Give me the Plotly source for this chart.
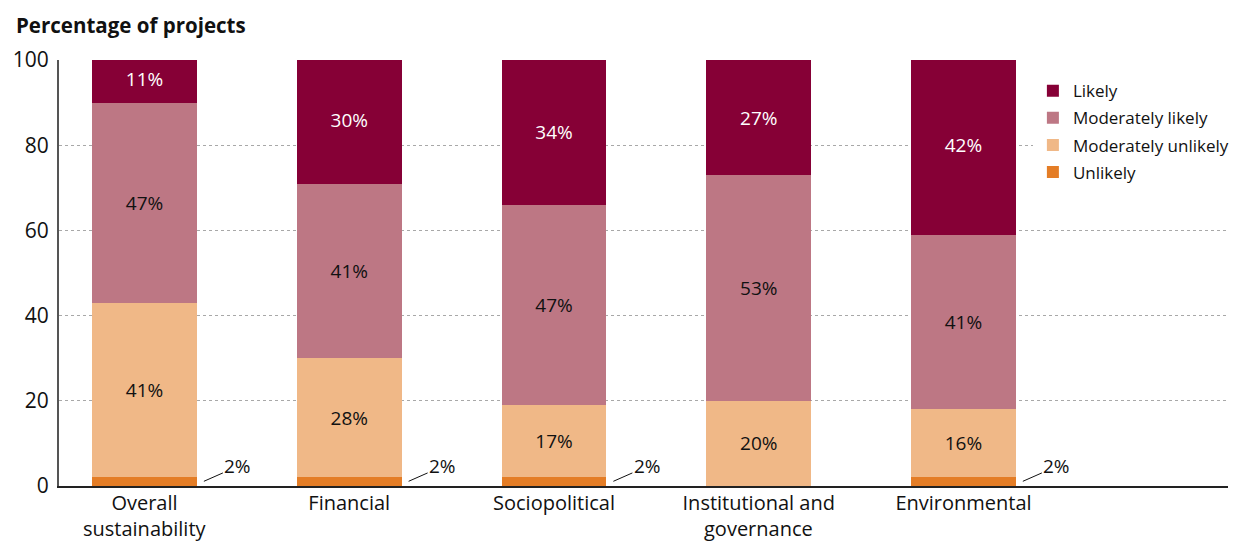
import plotly.graph_objects as go

# Sustainability outlook by dimension (percentage of projects)
categories = ["Overall", "Financial", "Sociopolitical",
              "Institutional and", "Environmental"]
category_second_line = ["sustainability", "", "", "governance", ""]
unlikely = [2, 2, 2, 0, 2]
moderately_unlikely = [41, 28, 17, 20, 16]
moderately_likely = [47, 41, 47, 53, 41]
likely = [11, 30, 34, 27, 42]
y_ticks = [0, 20, 40, 60, 80, 100]

FONT = "Open Sans"
x = list(range(len(categories)))

# (name, values, fill, label colour, legend rank) - stacked bottom to top
series = [
    ("Unlikely", unlikely, "#e47d26", "#111111", 4),
    ("Moderately unlikely", moderately_unlikely, "#f0b887", "#111111", 3),
    ("Moderately likely", moderately_likely, "#bd7784", "#111111", 2),
    ("Likely", likely, "#860036", "#ffffff", 1),
]

fig = go.Figure()
for name, vals, color, tcolor, rank in series:
    is_small = name == "Unlikely"
    fig.add_trace(go.Bar(
        x=x, y=vals, name=name, legendgroup=name, legendrank=rank,
        width=0.512,
        marker=dict(color=color, line=dict(width=0)),
        text=[f"{v}%" for v in vals],
        textposition="none" if is_small else "inside",
        insidetextanchor="middle",
        textfont=dict(family=FONT, size=19, color=tcolor),
        hoverinfo="skip",
    ))

# Small "Unlikely" shares are labelled beside the bar with a leader line
for i, v in enumerate(unlikely):
    if v > 0:
        fig.add_annotation(
            x=i + 0.29, y=v * 0.55, xref="x", yref="y",
            text=f"{v}%", showarrow=True, arrowhead=0, arrowwidth=1,
            arrowcolor="#111111", ax=34, ay=-15,
            font=dict(family=FONT, size=19, color="#111111"),
        )

# Second lines of the two-line category names
for i, line in enumerate(category_second_line):
    if line:
        fig.add_annotation(
            x=i, y=0, xref="x", yref="paper", text=line, showarrow=False,
            xanchor="center", yanchor="middle", yshift=-42,
            font=dict(family=FONT, size=20, color="#111111"),
        )

fig.add_annotation(
    text="<b>Percentage of projects</b>", xref="paper", yref="paper",
    x=-0.0385, y=1.0, xanchor="left", yanchor="bottom", yshift=19,
    showarrow=False, font=dict(family=FONT, size=20.5, color="#111111"),
)

fig.update_layout(
    barmode="stack",
    width=1243, height=542,
    margin=dict(l=59, r=15, t=60, b=56, autoexpand=False),
    paper_bgcolor="white", plot_bgcolor="white",
    font=dict(family=FONT, color="#111111"),
    legend=dict(
        x=0.8331, y=0.969, xanchor="left", yanchor="top",
        traceorder="grouped", bgcolor="white",
        font=dict(family=FONT, size=17, color="#111111"),
        itemwidth=30, tracegroupgap=2,
    ),
    xaxis=dict(
        range=[-0.4176, 5.292], tickmode="array", tickvals=x,
        ticktext=categories, showgrid=False, zeroline=False,
        showline=True, linecolor="#222222", linewidth=2,
        tickfont=dict(family=FONT, size=20, color="#111111"),
        ticks="", automargin=False, ticklabelstandoff=-2,
    ),
    yaxis=dict(
        range=[0, 100], tickmode="array", tickvals=y_ticks,
        showgrid=True, gridcolor="#a8a8a8", gridwidth=1, griddash="dot",
        zeroline=False, showline=True, linecolor="#555555", linewidth=2,
        tickfont=dict(family=FONT, size=21, color="#111111"),
        ticks="", ticklabelstandoff=4, automargin=False,
    ),
)

fig.write_html("out.html")
